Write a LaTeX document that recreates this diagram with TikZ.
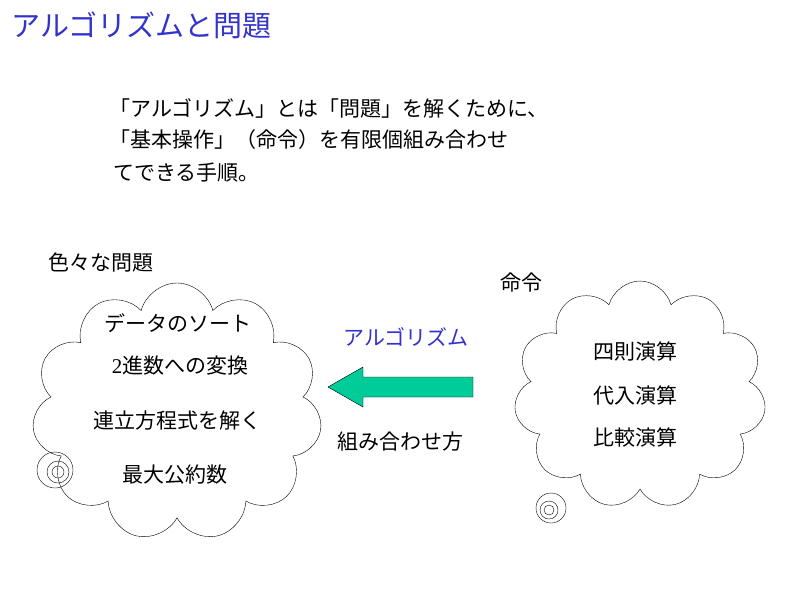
\documentclass[tikz,border=0pt]{standalone}
\usepackage{fontspec}
\setmainfont{Noto Sans CJK JP}
\newfontfamily\serifdigit{Liberation Serif}
\usetikzlibrary{shapes.symbols}
\definecolor{titleblue}{RGB}{51,51,204}
\definecolor{arrowgreen}{RGB}{0,204,153}

\begin{document}
\begin{tikzpicture}[x=1pt,y=-1pt]

% styles %{{{2

	\tikzset{
		puffy/.style={cloud, cloud puffs=11, draw, thin, aspect=1.1, inner sep=0pt},
		txt/.style={font=\fontsize{21}{24}\selectfont, inner sep=0pt},
	}

% frame %{{{2

	\useasboundingbox (0,0) rectangle (800,600);

% title and statement %{{{2

	\node[anchor=west, text=titleblue, font=\fontsize{29}{32}\selectfont] (title) at (8,25) {アルゴリズムと問題};
	\node[txt, anchor=west, xshift=-4pt] (line1) at (113,108) {「アルゴリズム」とは「問題」を解くために、};
	\node[txt, anchor=west, xshift=-4pt] (line2) at (113,140) {「基本操作」（命令）を有限個組み合わせ};
	\node[txt, anchor=west] (line3) at (113,173) {てできる手順。};

% clouds %{{{2

	\node[puffy, minimum width=290, minimum height=258] (problems) at (177,412) {};
	\node[puffy, minimum width=252, minimum height=228] (orders) at (640,395) {};

	\draw (55,470) circle (18) (58,472) circle (11) (58,472) circle (6);
	\draw (551,508) circle (15) (549,510) circle (9) (549,510) circle (5);

% labels %{{{2

	\node[txt, anchor=west] (problemlbl) at (48,263) {色々な問題};
	\node[txt, anchor=west] (orderlbl) at (500,283) {命令};

	\node[txt] (p1) at (178,323) {データのソート};
	\node[txt] (p2) at (180,366) {{\serifdigit 2}進数への変換};
	\node[txt] (p3) at (177,421) {連立方程式を解く};
	\node[txt] (p4) at (175,475) {最大公約数};

	\node[txt] (o1) at (635,351) {四則演算};
	\node[txt] (o2) at (635,395) {代入演算};
	\node[txt] (o3) at (635,437) {比較演算};

% arrow %{{{2

	\node[txt, text=titleblue] (algo) at (406,337) {アルゴリズム};
	\node[txt] (combine) at (400,442) {組み合わせ方};
	\filldraw[fill=arrowgreen, draw=black] (473,377) -- (363,377) -- (363,367) -- (328,387)
		-- (363,407) -- (363,397) -- (473,397) -- cycle;

\end{tikzpicture}
\end{document}
